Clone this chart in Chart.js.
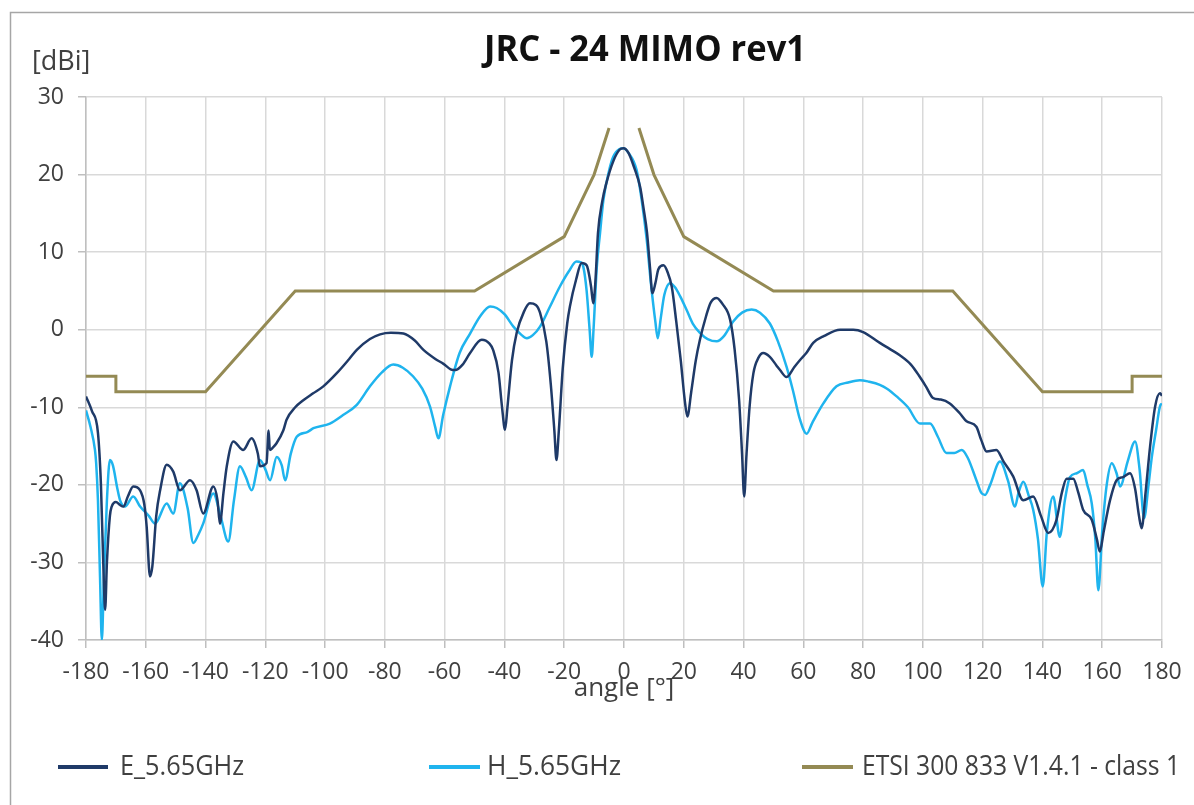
<!DOCTYPE html>
<html>
<head>
<meta charset="utf-8">
<script src="https://cdn.jsdelivr.net/npm/chart.js@4.4.1/dist/chart.umd.min.js"></script>
<style>
  html, body { margin: 0; padding: 0; background: #ffffff; }
  #wrap { position: relative; width: 1194px; height: 805px; }
</style>
</head>
<body>
<div id="wrap"><canvas id="c" width="1194" height="805"></canvas></div>
<script>
// ---- data ----
const chartTitle = 'JRC - 24 MIMO rev1';
const yUnitLabel = '[dBi]';
const xAxisLabel = 'angle [°]';
const seriesNames = ['E_5.65GHz', 'H_5.65GHz', 'ETSI 300 833 V1.4.1 - class 1'];

const eAngles = [-180,-178,-176,-175,-174,-173.6,-173,-172,-171.4,-170,-168.6,-167.5,-166,-164.2,-161.9,-160.5,-159.7,-158.6,-157.8,-156.5,-155.2,-153,-150.8,-148.6,-145.2,-143,-140.8,-137.4,-136,-135.2,-134,-132.9,-130.7,-127.4,-124.6,-122.5,-121.8,-119.6,-118.9,-118.5,-117.5,-116.2,-114,-112.9,-110,-107.3,-104,-100.6,-96.1,-92,-89.4,-85,-81.6,-78,-73.8,-70,-67.1,-63,-60.4,-58,-56.5,-54,-51.5,-47.6,-45,-43.8,-42,-40.8,-39.8,-39,-37.5,-35.9,-33.5,-31.5,-29.5,-28.1,-26,-24.5,-23.3,-22.6,-21.8,-20.5,-19,-18.1,-16,-14.2,-12.5,-12,-11,-10.3,-9.6,-8.7,-7.3,-5.9,-3.5,-1.5,-0.2,1.5,3.5,5.4,6.6,7.7,8.7,9.5,10.5,11.5,13.2,14.5,16,17.5,19,20.3,21.2,22.5,24,25.4,27.5,29,31,33,35.5,37,38.5,39.5,40.2,41,42,43.3,45,46.6,48.8,51,52.2,54.4,57,58.9,61,63.3,67,72.3,76.7,80,85.6,89,92.3,96,99,101,103.4,106,109,112.4,114.6,117.9,119.5,121.3,124.6,127,130.2,133.6,136.9,139.5,141.9,144.7,146.5,148.1,150.3,152,153.6,156.5,158.2,159.2,160.5,162.6,164.8,167,169.3,171,172.3,173.2,174.5,176,177.7,179.3,180];
const eValues = [-8.6,-10.5,-13.3,-20,-33,-36.1,-30,-24,-22.8,-22.2,-22.6,-22.8,-21.5,-20.2,-20.7,-22.5,-25.4,-31.8,-30.5,-24,-20.7,-17.4,-18.3,-20.7,-19.4,-20.7,-23.7,-20.2,-22,-25,-21,-17.6,-14.4,-15.5,-14,-16,-17.6,-17.2,-13,-15.5,-15.2,-14.6,-13,-11.6,-10,-9.1,-8.2,-7.3,-5.6,-3.8,-2.6,-1.2,-0.6,-0.4,-0.5,-1.4,-2.6,-3.8,-4.4,-5.1,-5.2,-4.5,-3.0,-1.3,-1.8,-2.6,-5.5,-10,-12.9,-10,-4,-0.4,2.3,3.4,3.2,2.2,-1.5,-7,-13,-16.8,-13,-5,0.8,3.0,6.5,8.6,8.3,7.7,5.5,3.4,6,12.5,16.5,18.9,21.8,23.2,23.4,22.8,20.8,18.4,15.5,12.5,8,4.7,6,7.8,8.3,7.5,5.5,1,-4,-9,-11.2,-8,-4,-1.3,1.8,3.5,4.1,3.3,1.3,-2.5,-9,-16,-21.5,-16,-10,-5.6,-3.6,-3.0,-3.5,-4.6,-5.2,-6.1,-4.8,-3.9,-3,-1.7,-0.8,0,0,-0.3,-1.7,-2.5,-3.3,-4.5,-6.1,-7.3,-8.8,-9,-9.5,-10.8,-11.8,-12.5,-14.2,-15.7,-15.5,-17,-18.9,-22,-21.5,-24,-26.2,-24.5,-21,-19.2,-19.2,-21,-23.2,-24.5,-27,-28.6,-26,-22,-19.4,-19,-18.5,-20.5,-24,-25.6,-21,-15.1,-9.9,-8.2,-8.5];

const hAngles = [-180,-178.5,-177,-176.6,-176,-175.3,-174.7,-174,-173,-172,-171,-169.5,-168.6,-167,-164.2,-161.9,-159,-156.9,-153,-150.8,-148.6,-146,-144.1,-142.5,-140.8,-137.4,-135,-132.4,-130.5,-128.5,-126.5,-124.6,-121.8,-120,-118.4,-116.2,-114.5,-113.4,-111.5,-109.5,-106,-103.9,-98.4,-94,-89.4,-85,-81,-77.2,-74,-70.6,-67.5,-64.9,-63.2,-62.1,-60.5,-58.2,-55,-51.5,-48,-44.8,-42.6,-40,-37,-34.5,-32.5,-30.5,-28.1,-25,-21.4,-18.5,-15.9,-14.5,-13.6,-12.5,-11.5,-10.8,-10.2,-9.1,-8,-6.9,-5,-3.6,-1.5,-0.2,1.5,4.2,6,7.6,9,10.5,11.3,12.3,13.5,15.4,17,18.8,21,23,25.4,28,31,33.5,36.6,39.5,42.7,45.5,48.8,51.5,54.4,56.5,58.9,61.1,63,66.7,71.1,75,78.9,82,85.6,88,91.2,95,99,102.4,105,107.9,110.5,113,115,117.9,119.5,120.8,122.5,125.8,128.5,130.8,132,133.6,135.5,136.9,138.5,140.1,141.5,143.6,145.8,147.5,149.2,151.5,153.6,155,156.5,157.7,158.7,160,161.5,163.2,164.8,166,168.5,171,172.5,174,175.5,176.6,178,179.3,180];
const hValues = [-10.4,-12.5,-15.5,-17.2,-22,-32,-40,-32,-22,-16.8,-17.5,-20.5,-22,-22.8,-21.5,-22.8,-24,-25,-22.4,-23.7,-19.8,-23,-27.5,-26.5,-25,-21.1,-24,-27.3,-22,-17.6,-19,-20.7,-16.8,-18,-19.4,-16.4,-17.5,-19.4,-16,-13.8,-13.2,-12.7,-12.1,-11,-9.7,-7.3,-5.5,-4.5,-4.9,-6,-7.6,-9.9,-12.5,-14,-11,-7.3,-3,-0.5,1.8,3.0,2.8,2,0.4,-0.6,-1.1,-0.7,0.4,2.8,5.6,7.5,8.8,8.7,8.1,5,0,-3.5,0,8.1,12.5,16.7,20.5,22.3,23.3,23.4,22.8,20.6,16.5,11.6,6,1,-1.1,1.5,4.5,6.0,5.5,4.3,2.5,0.8,-0.4,-1.2,-1.5,-0.8,1.1,2.2,2.6,2.2,0.8,-1.5,-4.8,-7.8,-11.6,-13.4,-12,-9.5,-7.3,-6.8,-6.5,-6.7,-7.1,-7.6,-8.6,-10,-12.1,-12.1,-13.8,-15.9,-15.9,-15.5,-16.5,-19.4,-21,-21.3,-20,-17,-19.5,-22.8,-21,-19.6,-21.5,-23.2,-27,-33.1,-26,-21.5,-26.7,-22,-19,-18.5,-18.1,-20,-22.4,-27,-33.6,-26,-20,-17.2,-18.5,-20.2,-17,-14.4,-18,-24.3,-20,-16.4,-13,-9.9,-9.5];

// ETSI mask (null = gap around boresight)
const maskAngles = [-180,-170,-170,-140,-110,-50,-20,-10,-5,0,5,10,20,50,110,140,170,170,180];
const maskValues = [-6,-6,-8,-8,5,5,12,20,26,null,26,20,12,5,5,-8,-8,-6,-6];

const xTicks = { min: -180, max: 180, step: 20 };
const yTicks = { min: -40, max: 30, step: 10 };

// ---- styles ----
const colE = '#1F3A68';
const colH = '#1FB4EE';
const colMask = '#948A54';
const textCol = '#404040';
const baseFam = "'Open Sans', 'Noto Sans', sans-serif";
const tickFont = { family: baseFam, size: 23 };

const toPts = (xs, ys) => xs.map((x, i) => ({ x: x, y: ys[i] }));

// draw text condensed horizontally to a given width (narrow-font look)
function fitText(ctx, text, x, y, targetW, align) {
  const w = ctx.measureText(text).width;
  const s = Math.min(1, targetW / w);
  ctx.save();
  ctx.translate(x, y);
  ctx.scale(s, 1);
  ctx.textAlign = align;
  ctx.fillText(text, 0, 0);
  ctx.restore();
}

const decor = {
  id: 'decor',
  beforeDraw(chart) {
    const ctx = chart.ctx;
    ctx.save();
    ctx.fillStyle = '#ffffff';
    ctx.fillRect(0, 0, chart.width, chart.height);
    ctx.restore();
  },
  afterDraw(chart) {
    const ctx = chart.ctx;
    ctx.save();
    // outer frame
    ctx.strokeStyle = '#A6A6A6';
    ctx.lineWidth = 1.5;
    ctx.beginPath();
    ctx.moveTo(10.5, chart.height + 5);
    ctx.lineTo(10.5, 12.5);
    ctx.lineTo(chart.width + 5, 12.5);
    ctx.stroke();
    // title
    ctx.fillStyle = '#111111';
    ctx.font = 'bold 35px ' + baseFam;
    ctx.textBaseline = 'middle';
    fitText(ctx, chartTitle, 645, 51, 322, 'center');
    // y unit
    ctx.fillStyle = textCol;
    ctx.font = '27px ' + baseFam;
    ctx.textAlign = 'left';
    ctx.fillText(yUnitLabel, 32, 62);
    // legend
    const items = [
      { line: [58, 108], text: 120, w: 124, color: colE },
      { line: [429, 480], text: 487, w: 134, color: colH },
      { line: [802, 853], text: 862, w: 318, color: colMask }
    ];
    const ly = 767;
    ctx.font = '28px ' + baseFam;
    items.forEach((it, i) => {
      ctx.strokeStyle = it.color;
      ctx.lineWidth = 4;
      ctx.beginPath();
      ctx.moveTo(it.line[0], ly);
      ctx.lineTo(it.line[1], ly);
      ctx.stroke();
      ctx.fillStyle = textCol;
      fitText(ctx, seriesNames[i], it.text, ly, it.w, 'left');
    });
    ctx.restore();
  }
};

new Chart(document.getElementById('c'), {
  type: 'line',
  data: {
    datasets: [
      { label: seriesNames[0], data: toPts(eAngles, eValues), borderColor: colE, borderWidth: 2.5,
        pointRadius: 0, cubicInterpolationMode: 'monotone', fill: false },
      { label: seriesNames[1], data: toPts(hAngles, hValues), borderColor: colH, borderWidth: 2.5,
        pointRadius: 0, cubicInterpolationMode: 'monotone', fill: false },
      { label: seriesNames[2], data: toPts(maskAngles, maskValues), borderColor: colMask, borderWidth: 3,
        pointRadius: 0, tension: 0, spanGaps: false, fill: false }
    ]
  },
  options: {
    responsive: false,
    animation: false,
    devicePixelRatio: 1,
    layout: { padding: { left: 0, top: 97, right: 32, bottom: 101 } },
    plugins: { legend: { display: false }, title: { display: false }, tooltip: { enabled: false } },
    scales: {
      x: {
        type: 'linear', min: xTicks.min, max: xTicks.max,
        ticks: { stepSize: xTicks.step, color: textCol, font: tickFont, padding: 11, maxRotation: 0, autoSkip: false },
        grid: { color: '#D9D9D9', lineWidth: 1.5, tickLength: 8, tickColor: '#BFBFBF' },
        border: { color: '#BFBFBF', width: 1.5 },
        title: { display: true, text: xAxisLabel, color: textCol,
                 font: { family: baseFam, size: 26 }, padding: 0 },
        afterFit(s) { s.height = 64; }
      },
      y: {
        type: 'linear', min: yTicks.min, max: yTicks.max,
        ticks: { stepSize: yTicks.step, color: textCol, font: tickFont, padding: 14 },
        grid: { color: '#D9D9D9', lineWidth: 1.5, tickLength: 8, tickColor: '#BFBFBF' },
        border: { color: '#BFBFBF', width: 1.5 },
        afterFit(s) { s.width = 86; }
      }
    }
  },
  plugins: [decor]
});
</script>
</body>
</html>
